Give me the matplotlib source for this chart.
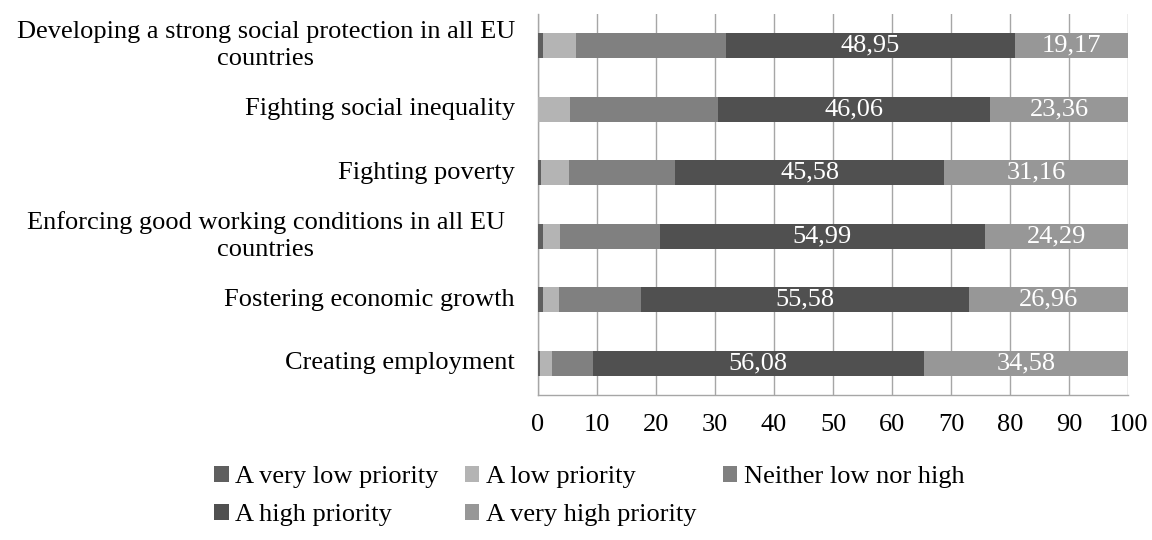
import numpy as np
import matplotlib
matplotlib.use("Agg")
import matplotlib.pyplot as plt
import matplotlib.transforms as mtransforms

plt.rcParams["font.family"] = ["Liberation Serif", "DejaVu Serif"]

# ----------------------------------------------------------------------
# Data (top to bottom as shown)
# ----------------------------------------------------------------------
CATEGORIES = [
    "Developing a strong social protection in all EU\ncountries",
    "Fighting social inequality",
    "Fighting poverty",
    "Enforcing good working conditions in all EU\ncountries",
    "Fostering economic growth",
    "Creating employment",
]
SERIES_NAMES = [
    "A very low priority",
    "A low priority",
    "Neither low nor high",
    "A high priority",
    "A very high priority",
]
very_low = [0.88, 0.0, 0.5, 0.8, 0.8, 0.4]
low = [5.6, 5.4, 4.75, 2.9, 2.8, 1.9]
neither = [25.4, 25.18, 18.0, 17.0, 13.9, 7.0]
high = [48.95, 46.06, 45.58, 54.99, 55.58, 56.08]
very_high = [19.17, 23.36, 31.16, 24.29, 26.96, 34.58]

COLORS = ["#5f5f5f", "#b4b4b4", "#808080", "#505050", "#979797"]
LABELLED = [False, False, False, True, True]
FS = 19

W, H = 1152, 540
fig = plt.figure(figsize=(W / 100, H / 100), dpi=100)
ax = fig.add_axes([538 / W, 1 - 395 / H, (1128 - 538) / W, (395 - 14) / H])

y = np.arange(len(CATEGORIES))[::-1]
left = np.zeros(len(CATEGORIES))
handles = []
for name, vals, col, lab in zip(SERIES_NAMES,
                                [very_low, low, neither, high, very_high],
                                COLORS, LABELLED):
    vals = np.array(vals)
    h = ax.barh(y, vals, left=left, height=0.4, color=col, label=name, zorder=3)
    handles.append(h)
    if lab:
        for yi, l, v in zip(y, left, vals):
            ax.text(l + v / 2, yi, f"{v:.2f}".replace(".", ","), color="white",
                    ha="center", va="center", fontsize=FS, zorder=4)
    left += vals

ax.set_xlim(0, 100)
ax.set_ylim(-0.5, len(CATEGORIES) - 0.5)
ax.set_xticks(np.arange(0, 101, 10))
ax.set_yticks([])
ax.tick_params(axis="x", length=0, pad=14, labelsize=FS)
ax.grid(axis="x", color="#a6a6a6", linewidth=1.0, zorder=0)
for s in ["top", "right"]:
    ax.spines[s].set_visible(False)
for s in ["left", "bottom"]:
    ax.spines[s].set_color("#a6a6a6")
    ax.spines[s].set_linewidth(1.0)

# category labels
trans = mtransforms.blended_transform_factory(fig.transFigure, ax.transData)
for yi, cat in zip(y, CATEGORIES):
    if "\n" in cat:
        ax.text(266 / W, yi, cat, transform=trans, ha="center", va="center",
                fontsize=FS, multialignment="center", linespacing=1.3)
    else:
        ax.text(515 / W, yi, cat, transform=trans, ha="right", va="center",
                fontsize=FS)

# legend laid out row-wise: matplotlib fills columns first
order = [0, 3, 1, 4, 2]
fig.legend([handles[i] for i in order], [SERIES_NAMES[i] for i in order],
           loc="upper left", bbox_to_anchor=(214 / W, 1 - 466 / H), ncol=3,
           frameon=False, fontsize=FS, handlelength=0.55, handleheight=0.55,
           handletextpad=0.25, columnspacing=1.0, labelspacing=0.6,
           borderpad=0, borderaxespad=0)

fig.savefig("out.png", dpi=100)
